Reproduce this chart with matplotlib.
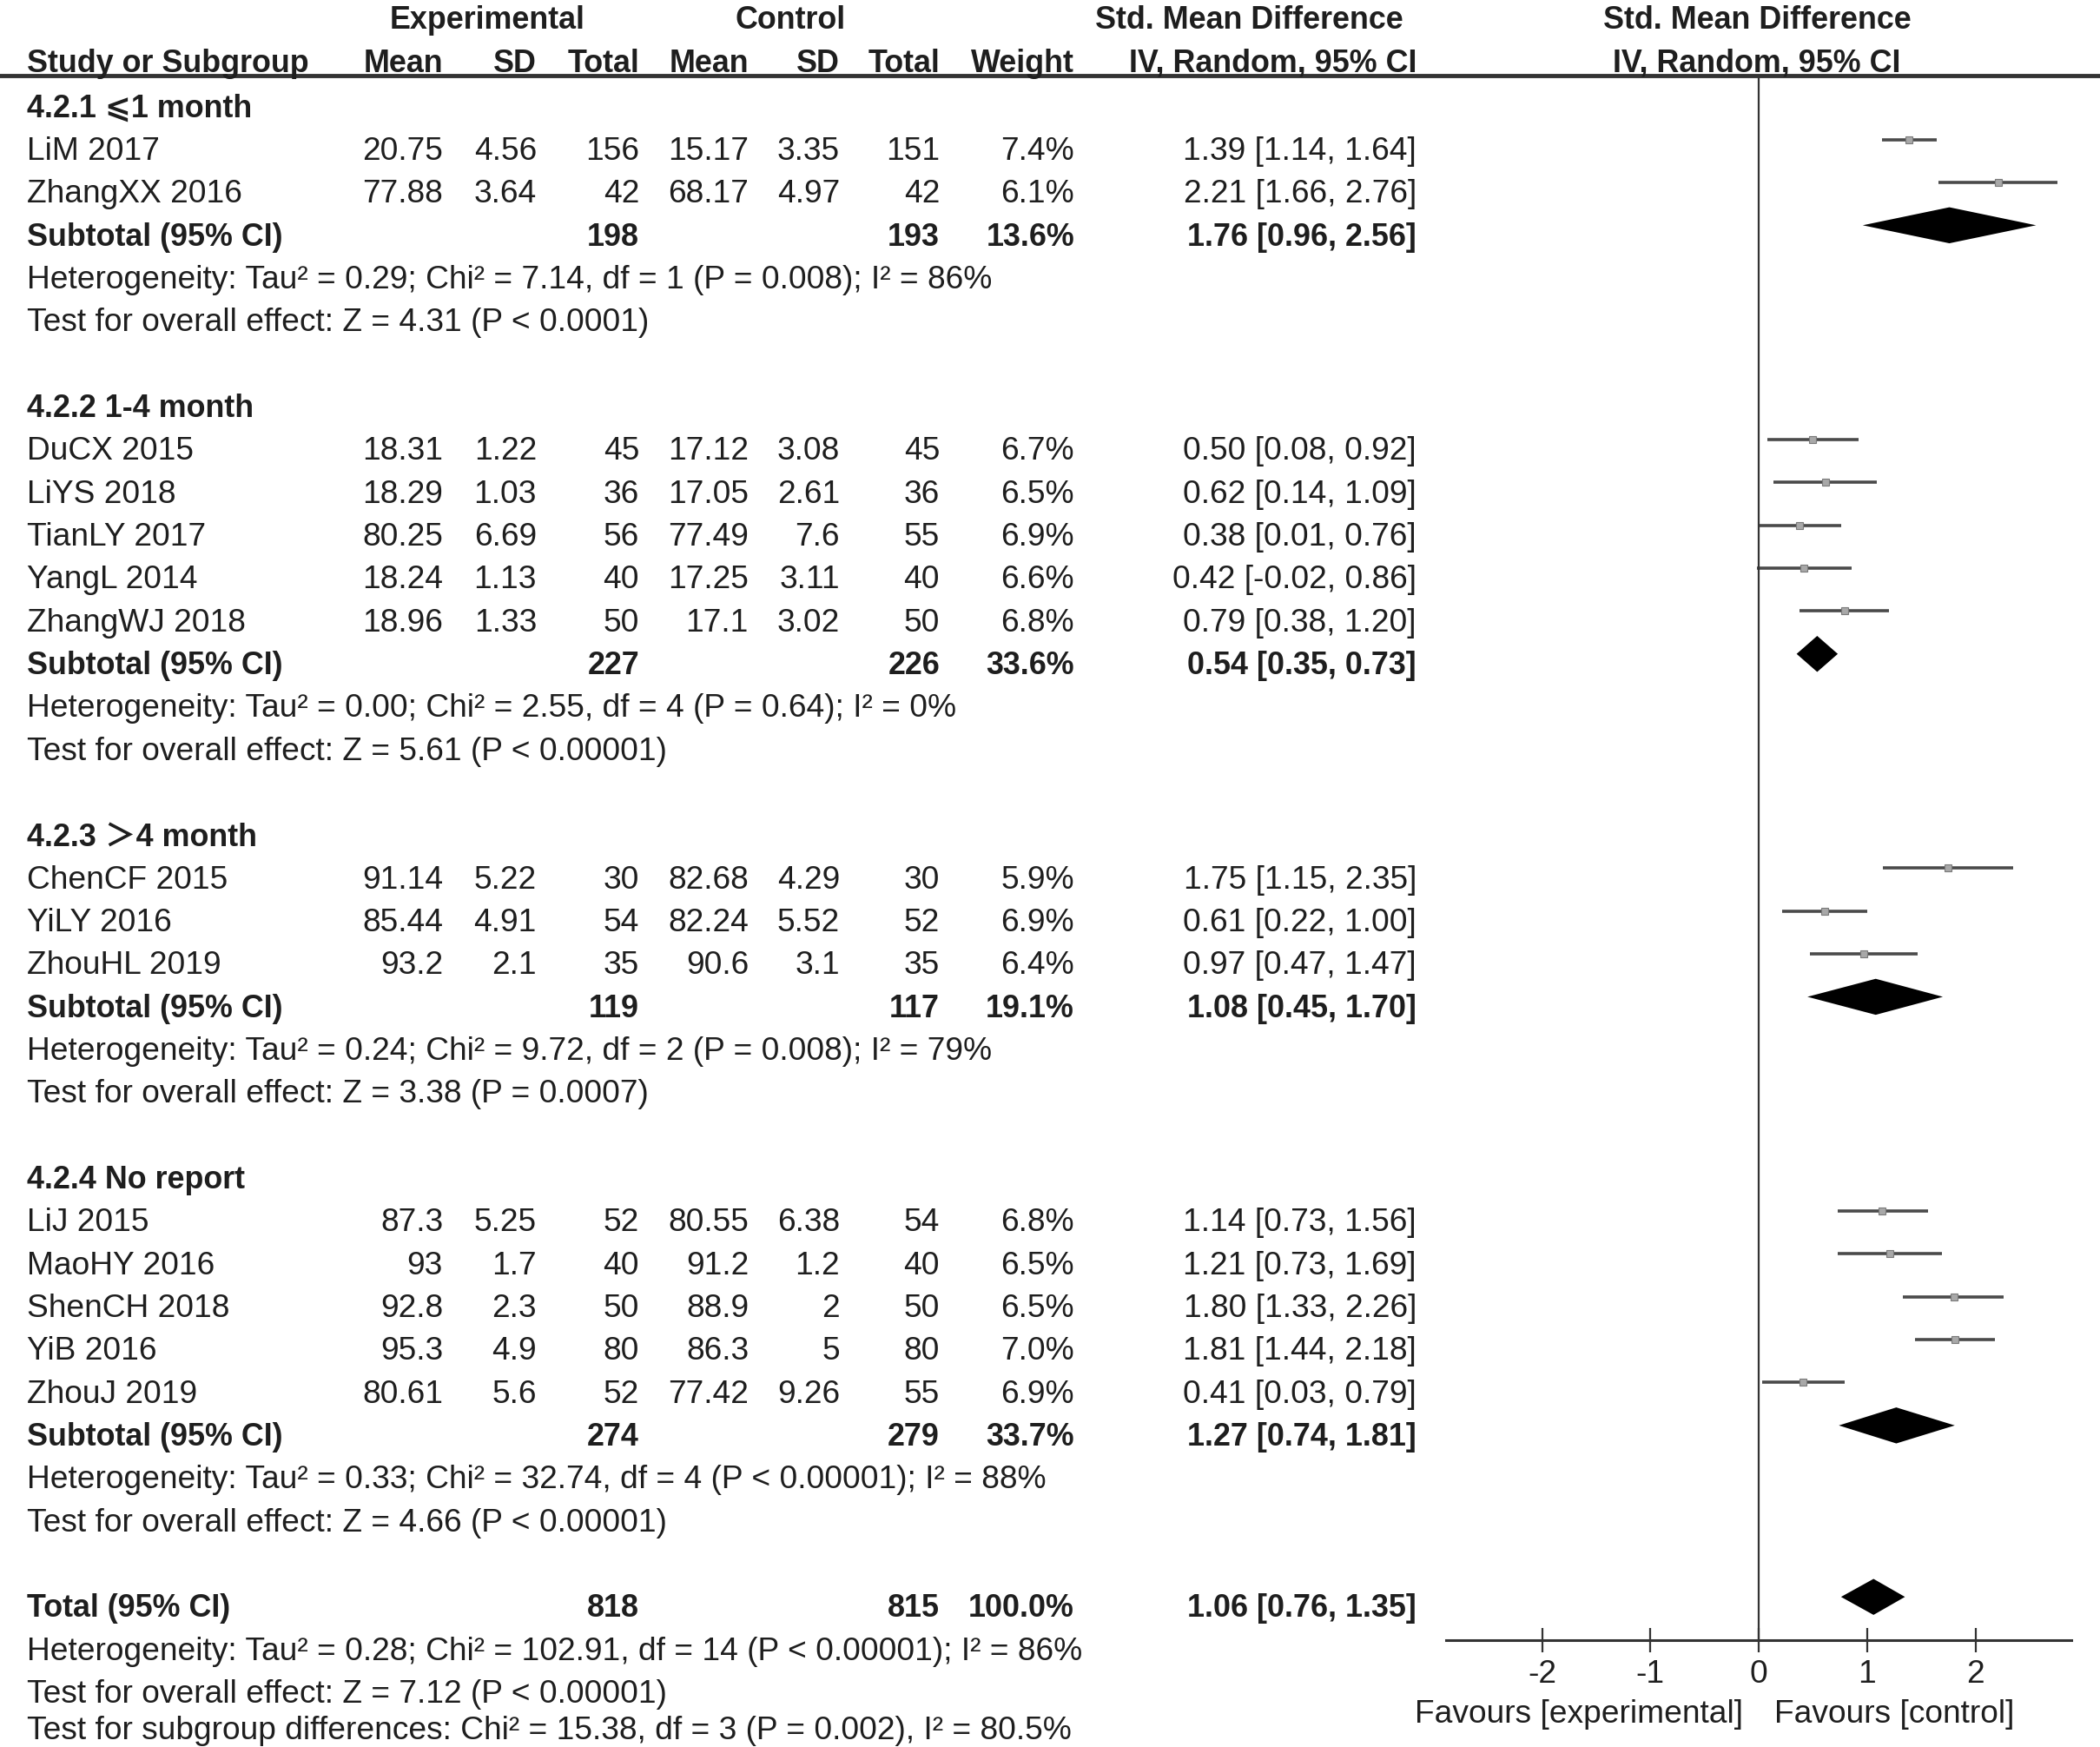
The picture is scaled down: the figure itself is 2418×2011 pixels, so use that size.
import matplotlib
matplotlib.use("Agg")
import matplotlib.pyplot as plt
import numpy as np

plt.rcParams['font.family'] = ['Liberation Sans', 'DejaVu Sans', 'Noto Sans CJK SC']

# ---- data -------------------------------------------------------------
group_titles = ["4.2.1 ⩽1 month", "4.2.2 1-4 month", "4.2.3 ＞4 month", "4.2.4 No report"]

study_names = [
    ["LiM 2017", "ZhangXX 2016"],
    ["DuCX 2015", "LiYS 2018", "TianLY 2017", "YangL 2014", "ZhangWJ 2018"],
    ["ChenCF 2015", "YiLY 2016", "ZhouHL 2019"],
    ["LiJ 2015", "MaoHY 2016", "ShenCH 2018", "YiB 2016", "ZhouJ 2019"],
]
exp_mean = [[20.75, 77.88], [18.31, 18.29, 80.25, 18.24, 18.96], [91.14, 85.44, 93.2], [87.3, 93, 92.8, 95.3, 80.61]]
exp_sd = [[4.56, 3.64], [1.22, 1.03, 6.69, 1.13, 1.33], [5.22, 4.91, 2.1], [5.25, 1.7, 2.3, 4.9, 5.6]]
exp_n = [[156, 42], [45, 36, 56, 40, 50], [30, 54, 35], [52, 40, 50, 80, 52]]
ctl_mean = [[15.17, 68.17], [17.12, 17.05, 77.49, 17.25, 17.1], [82.68, 82.24, 90.6], [80.55, 91.2, 88.9, 86.3, 77.42]]
ctl_sd = [[3.35, 4.97], [3.08, 2.61, 7.6, 3.11, 3.02], [4.29, 5.52, 3.1], [6.38, 1.2, 2, 5, 9.26]]
ctl_n = [[151, 42], [45, 36, 55, 40, 50], [30, 52, 35], [54, 40, 50, 80, 55]]
weights = [[7.4, 6.1], [6.7, 6.5, 6.9, 6.6, 6.8], [5.9, 6.9, 6.4], [6.8, 6.5, 6.5, 7.0, 6.9]]
smd = [[1.39, 2.21], [0.50, 0.62, 0.38, 0.42, 0.79], [1.75, 0.61, 0.97], [1.14, 1.21, 1.80, 1.81, 0.41]]
ci_lo = [[1.14, 1.66], [0.08, 0.14, 0.01, -0.02, 0.38], [1.15, 0.22, 0.47], [0.73, 0.73, 1.33, 1.44, 0.03]]
ci_hi = [[1.64, 2.76], [0.92, 1.09, 0.76, 0.86, 1.20], [2.35, 1.00, 1.47], [1.56, 1.69, 2.26, 2.18, 0.79]]

sub_exp_n = [198, 227, 119, 274]
sub_ctl_n = [193, 226, 117, 279]
sub_weight = [13.6, 33.6, 19.1, 33.7]
sub_smd = [1.76, 0.54, 1.08, 1.27]
sub_lo = [0.96, 0.35, 0.45, 0.74]
sub_hi = [2.56, 0.73, 1.70, 1.81]
sub_het = [
    "Heterogeneity: Tau² = 0.29; Chi² = 7.14, df = 1 (P = 0.008); I² = 86%",
    "Heterogeneity: Tau² = 0.00; Chi² = 2.55, df = 4 (P = 0.64); I² = 0%",
    "Heterogeneity: Tau² = 0.24; Chi² = 9.72, df = 2 (P = 0.008); I² = 79%",
    "Heterogeneity: Tau² = 0.33; Chi² = 32.74, df = 4 (P < 0.00001); I² = 88%",
]
sub_test = [
    "Test for overall effect: Z = 4.31 (P < 0.0001)",
    "Test for overall effect: Z = 5.61 (P < 0.00001)",
    "Test for overall effect: Z = 3.38 (P = 0.0007)",
    "Test for overall effect: Z = 4.66 (P < 0.00001)",
]

total_exp_n, total_ctl_n, total_weight = 818, 815, 100.0
total_smd, total_lo, total_hi = 1.06, 0.76, 1.35
total_notes = [
    "Heterogeneity: Tau² = 0.28; Chi² = 102.91, df = 14 (P < 0.00001); I² = 86%",
    "Test for overall effect: Z = 7.12 (P < 0.00001)",
    "Test for subgroup differences: Chi² = 15.38, df = 3 (P = 0.002), I² = 80.5%",
]

x_ticks = [-2, -1, 0, 1, 2]
favours = ["Favours [experimental]", "Favours [control]"]

# ---- layout ------------------------------------------------------------
W, H = 2418, 2011
ROW0, ROWH = 118.7, 49.34          # pixel y of row 0 and row height
FS, FS_B = 26.7, 25.8
TXT = '#1e1e1e'
BASE = 0.32                        # baseline offset (rows) below row centre
MARK = -0.15                       # marks sit slightly above text centre

# right edges of the numeric columns (pixels)
col_x = dict(em=510, esd=618, en=736, cm=862, csd=967, cn=1082, w=1237, ci=1631)
study_x = 31

fig = plt.figure(figsize=(W / 100, H / 100), dpi=100)
fig.patch.set_facecolor('white')
tx = fig.add_axes([0, 0, 1, 1])
tx.set_xlim(0, W)
tx.set_ylim((H - ROW0) / ROWH, -ROW0 / ROWH)
tx.axis('off')

xmin, xmax = -2.886, 2.886
zero_px, unit_px = 2025, 124.75
fx_left = (zero_px + xmin * unit_px) / W
fx = fig.add_axes([fx_left, 0, (xmax - xmin) * unit_px / W, 1])
fx.set_xlim(xmin, xmax)
fx.set_ylim(tx.get_ylim())
fx.patch.set_visible(False)


def put(x, k, s, ha='left', bold=False, dy=0.0):
    tx.text(x, k + BASE + dy, s, ha=ha, va='baseline', fontsize=FS_B if bold else FS,
            color=TXT, fontweight='bold' if bold else 'normal')


def fmt(v):
    return f"{v:g}"


def ci_text(m, lo, hi):
    return f"{m:.2f} [{lo:.2f}, {hi:.2f}]"


def diamond(k, m, lo, hi, h=0.42):
    fx.fill([lo, m, hi, m], [k + MARK, k + MARK - h, k + MARK, k + MARK + h],
            color='black', lw=0)


# headers
hdy = -0.05
put(561, -2, "Experimental", ha='center', bold=True, dy=hdy)
put(910, -2, "Control", ha='center', bold=True, dy=hdy)
put(1616, -2, "Std. Mean Difference", ha='right', bold=True, dy=hdy)
put(2023, -2, "Std. Mean Difference", ha='center', bold=True, dy=hdy)
put(study_x, -1, "Study or Subgroup", bold=True, dy=hdy)
for key, lab in zip(['em', 'esd', 'en', 'cm', 'csd', 'cn', 'w'],
                    ["Mean", "SD", "Total", "Mean", "SD", "Total", "Weight"]):
    put(col_x[key], -1, lab, ha='right', bold=True, dy=hdy)
put(col_x['ci'], -1, "IV, Random, 95% CI", ha='right', bold=True, dy=hdy)
put(2023, -1, "IV, Random, 95% CI", ha='center', bold=True, dy=hdy)
tx.axhline(-0.64, color='#333333', lw=3.5)

k = 0
for g in range(len(group_titles)):
    put(study_x, k, group_titles[g], bold=True)
    k += 1
    for i, name in enumerate(study_names[g]):
        put(study_x, k, name)
        put(col_x['em'], k, fmt(exp_mean[g][i]), ha='right')
        put(col_x['esd'], k, fmt(exp_sd[g][i]), ha='right')
        put(col_x['en'], k, str(exp_n[g][i]), ha='right')
        put(col_x['cm'], k, fmt(ctl_mean[g][i]), ha='right')
        put(col_x['csd'], k, fmt(ctl_sd[g][i]), ha='right')
        put(col_x['cn'], k, str(ctl_n[g][i]), ha='right')
        put(col_x['w'], k, f"{weights[g][i]:.1f}%", ha='right')
        put(col_x['ci'], k, ci_text(smd[g][i], ci_lo[g][i], ci_hi[g][i]), ha='right')
        fx.plot([ci_lo[g][i], ci_hi[g][i]], [k + MARK] * 2, color='#4a4a4a', lw=2.6,
                solid_capstyle='butt')
        fx.plot(smd[g][i], k + MARK, marker='s', ms=5.5 * np.sqrt(weights[g][i] / 6.7),
                mfc='#a8a8a8', mec='#7a7a7a', mew=0.8)
        k += 1
    put(study_x, k, "Subtotal (95% CI)", bold=True)
    put(col_x['en'], k, str(sub_exp_n[g]), ha='right', bold=True)
    put(col_x['cn'], k, str(sub_ctl_n[g]), ha='right', bold=True)
    put(col_x['w'], k, f"{sub_weight[g]:.1f}%", ha='right', bold=True)
    put(col_x['ci'], k, ci_text(sub_smd[g], sub_lo[g], sub_hi[g]), ha='right', bold=True)
    diamond(k, sub_smd[g], sub_lo[g], sub_hi[g])
    k += 1
    put(study_x, k, sub_het[g])
    k += 1
    put(study_x, k, sub_test[g])
    k += 2

put(study_x, k, "Total (95% CI)", bold=True)
put(col_x['en'], k, str(total_exp_n), ha='right', bold=True)
put(col_x['cn'], k, str(total_ctl_n), ha='right', bold=True)
put(col_x['w'], k, f"{total_weight:.1f}%", ha='right', bold=True)
put(col_x['ci'], k, ci_text(total_smd, total_lo, total_hi), ha='right', bold=True)
diamond(k, total_smd, total_lo, total_hi)
for j, note in enumerate(total_notes):
    # last line sits at the very bottom edge; lift it just enough to keep descenders
    put(study_x, k + 1 + j, note, dy=-0.15 if j == len(total_notes) - 1 else 0.0)

# axis
axis_row = k + 0.86
fx.vlines(0, -0.64, axis_row, color='#333333', lw=1.6)
for side in ['top', 'left', 'right']:
    fx.spines[side].set_visible(False)
fx.spines['bottom'].set_position(('data', axis_row))
fx.spines['bottom'].set_linewidth(2.2)
fx.spines['bottom'].set_color('#333333')
fx.set_yticks([])
fx.set_xticks(x_ticks)
fx.set_xticklabels([str(t) for t in x_ticks])
fx.tick_params(axis='x', direction='inout', length=19.5, width=1.6, color='#333333',
               labelsize=FS, labelcolor=TXT, pad=6)
fav_y = axis_row + 1.68 + BASE - 0.08
fx.text(-0.145, fav_y, favours[0], ha='right', va='baseline', fontsize=FS, color=TXT)
fx.text(0.145, fav_y, favours[1], ha='left', va='baseline', fontsize=FS, color=TXT)

fig.savefig("out.png", dpi=100, facecolor='white')
